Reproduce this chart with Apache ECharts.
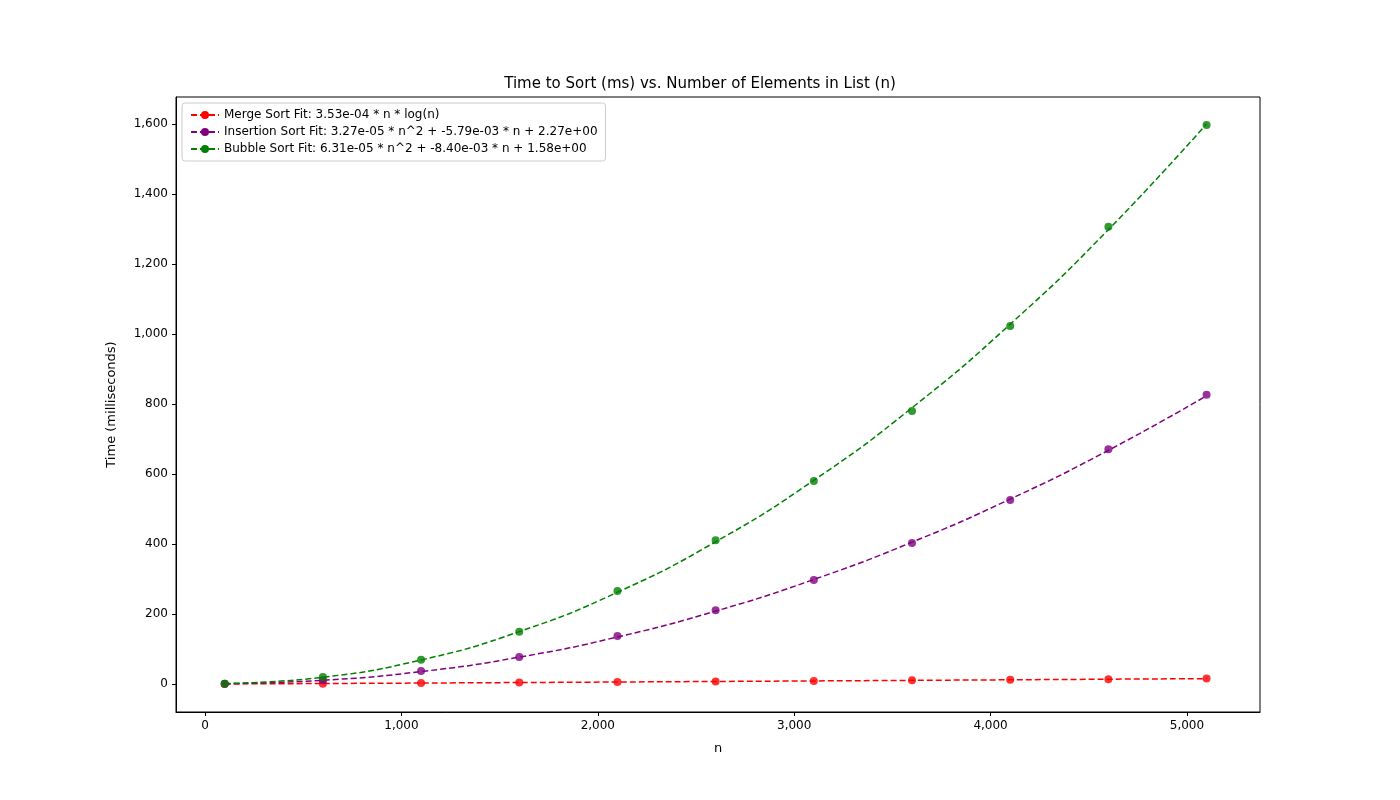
<!DOCTYPE html>
<html>
<head>
<meta charset="utf-8">
<script src="https://cdn.jsdelivr.net/npm/echarts@6/dist/echarts.min.js"></script>
<style>html,body{margin:0;padding:0;background:#fff}#container{width:1400px;height:800px}</style>
</head>
<body>
<div id="container"></div>
<script>
// list sizes
var sizes = [100, 600, 1100, 1600, 2100, 2600, 3100, 3600, 4100, 4600, 5100];

var mergePts     = [0.2, 0.5, 3, 4.2, 5.7, 7.2, 8.8, 10.4, 12, 13.7, 15.4];
var insertionPts = [0.5, 11, 37, 77, 137, 211, 297, 403, 526, 671, 826];
var bubblePts    = [1, 20, 69, 149, 266, 411, 580, 780, 1023, 1306, 1597];

// fitted curves, read at the same sizes
var mergeFit     = [0.16, 1.35, 2.72, 4.17, 5.67, 7.22, 8.8, 10.4, 12.0, 13.7, 15.4];
var insertionFit = [0.8, 10.6, 35.5, 76.7, 134.3, 208.3, 298.6, 405.2, 528.3, 667.6, 823.3];
var bubbleFit    = [1.4, 19.3, 68.7, 149.7, 262.2, 406.3, 582, 789.2, 1027.9, 1298.1, 1600];

var xTicks = [0, 1000, 2000, 3000, 4000, 5000];
var yTicks = [0, 200, 400, 600, 800, 1000, 1200, 1400, 1600];

var names = [
    'Merge Sort Fit: 3.53e-04 * n * log(n)',
    'Insertion Sort Fit: 3.27e-05 * n^2 + -5.79e-03 * n + 2.27e+00',
    'Bubble Sort Fit: 6.31e-05 * n^2 + -8.40e-03 * n + 1.58e+00'
];
var colors = ['#ff0000', '#800080', '#008000'];

function pair(ys) {
    return sizes.map(function (x, i) { return [x, ys[i]]; });
}

var series = [];
[[mergeFit, mergePts], [insertionFit, insertionPts], [bubbleFit, bubblePts]].forEach(function (s, i) {
    series.push({
        name: names[i], type: 'line', data: pair(s[0]), smooth: true, showSymbol: false,
        symbol: 'none', lineStyle: {color: colors[i], width: 1.5, type: [6, 3]},
        itemStyle: {color: colors[i]}, z: 2, silent: true
    });
    series.push({
        name: 'pts' + i, type: 'scatter', data: pair(s[1]), symbolSize: 8,
        itemStyle: {color: colors[i]}, z: 3
    });
});

var font = 'DejaVu Sans';
var myChart = echarts.init(document.getElementById('container'));
myChart.setOption({
    animation: false,
    textStyle: {fontFamily: font},
    title: {
        text: 'Time to Sort (ms) vs. Number of Elements in List (n)',
        left: 'center', top: 72,
        textStyle: {fontSize: 15, fontWeight: 'normal', color: '#000', fontFamily: font}
    },
    legend: {
        data: names, orient: 'vertical', left: 182, top: 103,
        padding: [6, 8, 6, 8], itemGap: 5, itemWidth: 28, itemHeight: 10,
        borderColor: '#ccc', borderWidth: 1, borderRadius: 3,
        textStyle: {fontSize: 12, color: '#000', fontFamily: font}
    },
    grid: {left: 176, top: 97, width: 1084, height: 615, show: true, borderColor: '#000', borderWidth: 1},
    xAxis: {
        type: 'value', min: -148, max: 5372, name: 'n', nameLocation: 'middle', nameGap: 30,
        nameTextStyle: {fontSize: 13, color: '#000'},
        axisLine: {show: true, onZero: false, lineStyle: {color: '#000'}},
        axisTick: {show: true, customValues: xTicks, length: 4, lineStyle: {color: '#000'}},
        axisLabel: {customValues: xTicks, color: '#000', fontSize: 12, margin: 8},
        splitLine: {show: false}
    },
    yAxis: {
        type: 'value', min: -80, max: 1677, name: 'Time (milliseconds)', nameLocation: 'middle', nameGap: 58,
        nameTextStyle: {fontSize: 13, color: '#000'},
        axisLine: {show: true, onZero: false, lineStyle: {color: '#000'}},
        axisTick: {show: true, customValues: yTicks, length: 4, lineStyle: {color: '#000'}},
        axisLabel: {customValues: yTicks, color: '#000', fontSize: 12, margin: 8},
        splitLine: {show: false}
    },
    series: series
});
</script>
</body>
</html>
